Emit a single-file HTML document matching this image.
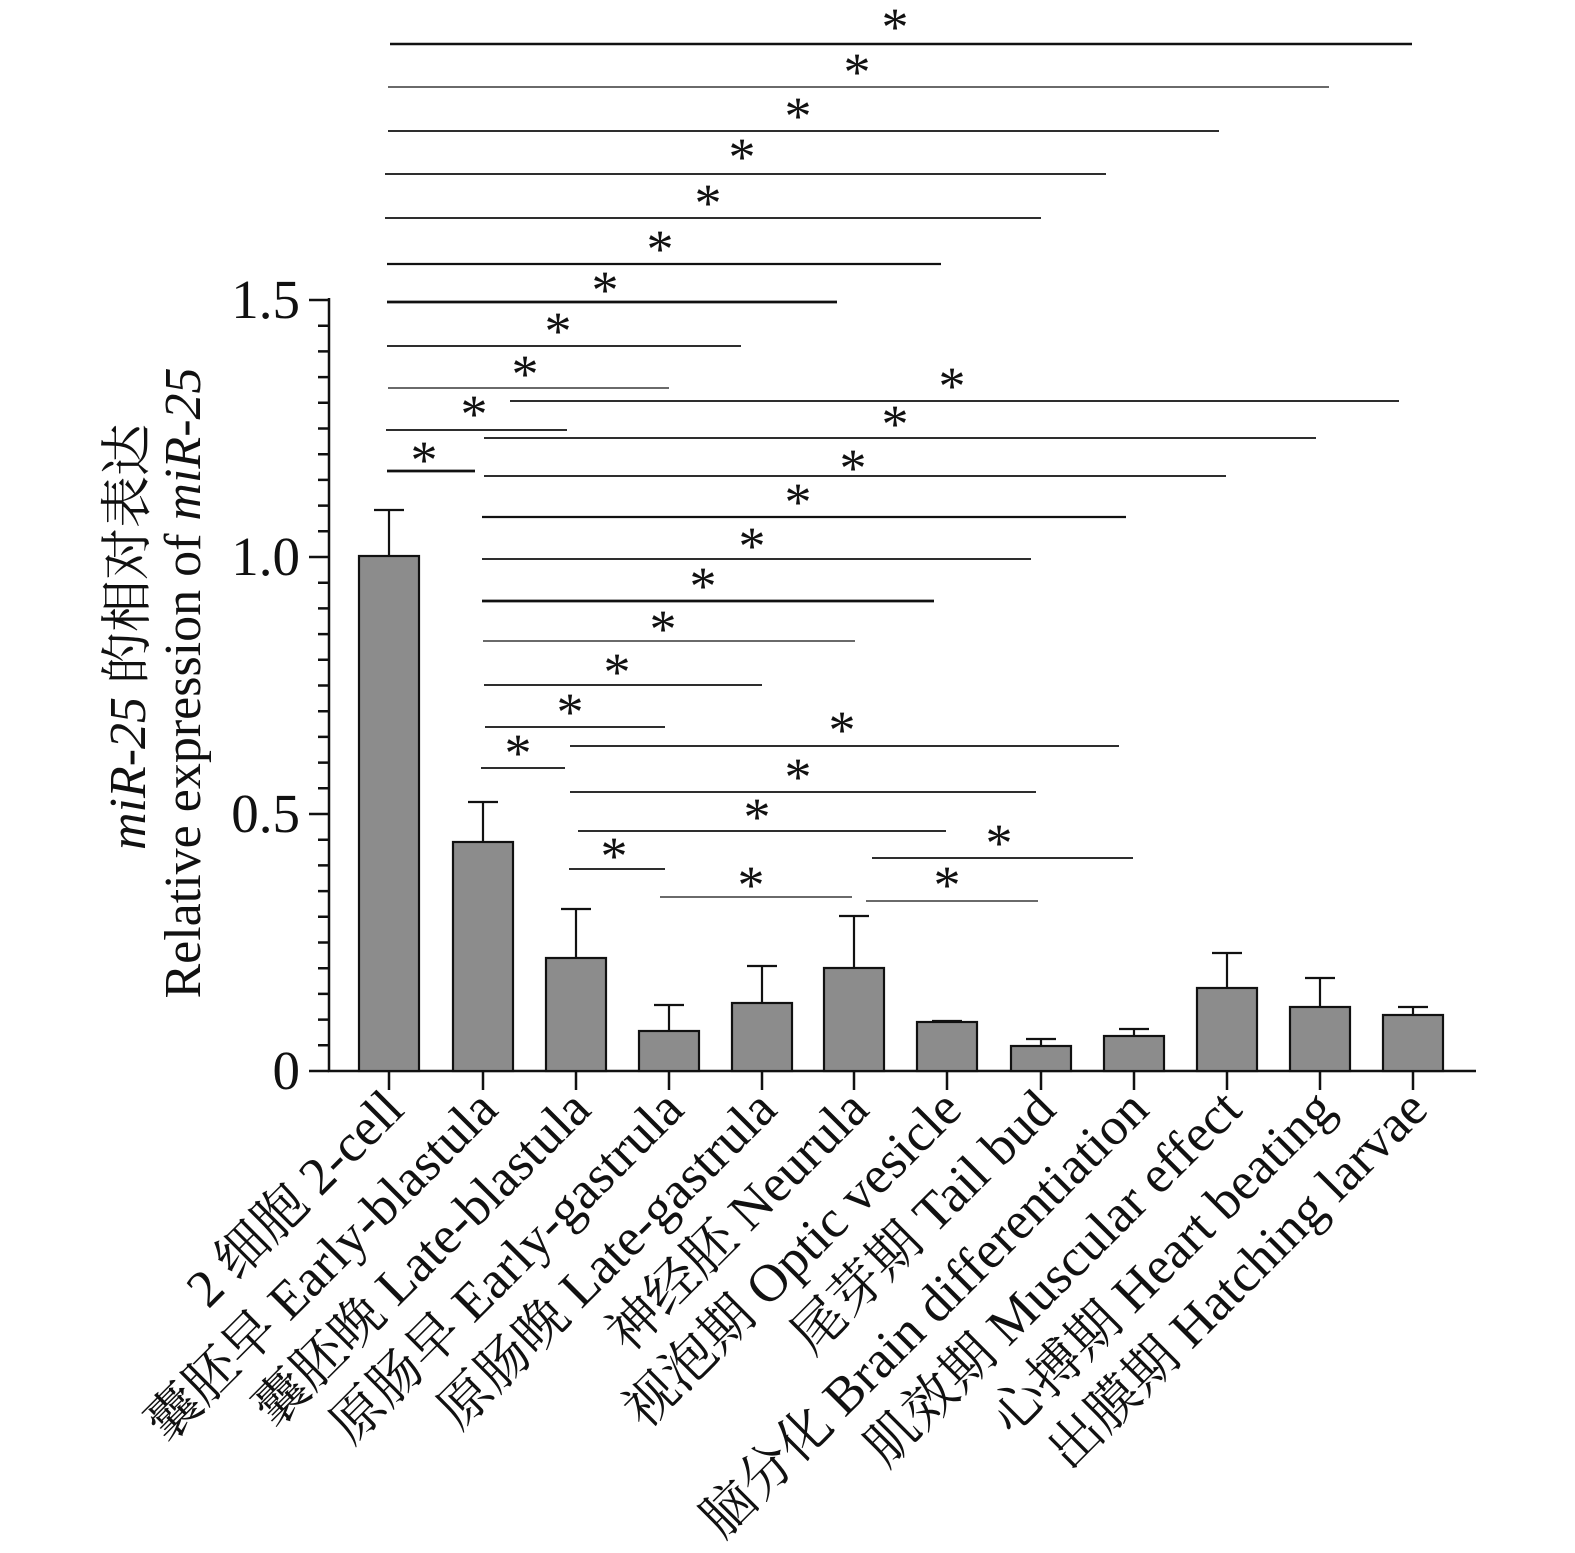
<!DOCTYPE html>
<html><head><meta charset="utf-8"><style>html,body{margin:0;padding:0;background:#fff}svg{display:block}</style></head>
<body>
<svg width="1575" height="1553" viewBox="0 0 1575 1553" xmlns="http://www.w3.org/2000/svg" font-family="'Liberation Serif','Noto Serif CJK SC',serif" fill="#111">
<g stroke="#111" stroke-width="2.5" fill="none">
<path d="M329 298 V1071 H1476"/>
<path d="M309 300H329M309 557H329M309 814H329M309 1071H329"/>
<path d="M318 325.7H329M318 351.4H329M318 377.1H329M318 402.8H329M318 428.5H329M318 454.2H329M318 479.9H329M318 505.6H329M318 531.3H329
M318 582.7H329M318 608.4H329M318 634.1H329M318 659.8H329M318 685.5H329M318 711.2H329M318 736.9H329M318 762.6H329M318 788.3H329
M318 839.7H329M318 865.4H329M318 891.1H329M318 916.8H329M318 942.5H329M318 968.2H329M318 993.9H329M318 1019.6H329M318 1045.3H329"/>
<path d="M389 1071V1090M483 1071V1090M576 1071V1090M669 1071V1090M762 1071V1090M854 1071V1090M947 1071V1090M1041 1071V1090M1134 1071V1090M1227 1071V1090M1320 1071V1090M1413 1071V1090"/>
</g>
<g font-size="55" text-anchor="end">
<text x="300" y="318">1.5</text><text x="300" y="575">1.0</text><text x="300" y="832">0.5</text><text x="300" y="1089">0</text>
</g>
<g fill="#8c8c8c" stroke="#111" stroke-width="2.2">
<rect x="359" y="556" width="60" height="515"/>
<rect x="453" y="842" width="60" height="229"/>
<rect x="546" y="958" width="60" height="113"/>
<rect x="639" y="1031" width="60" height="40"/>
<rect x="732" y="1003" width="60" height="68"/>
<rect x="824" y="968" width="60" height="103"/>
<rect x="917" y="1022" width="60" height="49"/>
<rect x="1011" y="1046" width="60" height="25"/>
<rect x="1104" y="1036" width="60" height="35"/>
<rect x="1197" y="988" width="60" height="83"/>
<rect x="1290" y="1007" width="60" height="64"/>
<rect x="1383" y="1015" width="60" height="56"/>
</g>
<g stroke="#111" stroke-width="2.2" fill="none">
<path d="M389 556V510M374 510H404"/>
<path d="M483 842V802M468 802H498"/>
<path d="M576 958V909M561 909H591"/>
<path d="M669 1031V1005M654 1005H684"/>
<path d="M762 1003V966M747 966H777"/>
<path d="M854 968V916M839 916H869"/>
<path d="M947 1022V1021M932 1021H962"/>
<path d="M1041 1046V1039M1026 1039H1056"/>
<path d="M1134 1036V1029M1119 1029H1149"/>
<path d="M1227 988V953M1212 953H1242"/>
<path d="M1320 1007V978M1305 978H1335"/>
<path d="M1413 1015V1007M1398 1007H1428"/>
</g>
<g stroke="#111" stroke-width="1.8" fill="none">
<path d="M390 44H1412" stroke-width="2.6"/>
<path d="M388 87H1329" stroke-width="1.3"/>
<path d="M388 131H1219"/>
<path d="M385 174H1106"/>
<path d="M385 218H1041"/>
<path d="M387 264H941" stroke-width="2.2"/>
<path d="M387 302H837" stroke-width="2.8"/>
<path d="M387 346H741"/>
<path d="M388 388H669" stroke-width="1.2"/>
<path d="M386 430H567"/>
<path d="M387 471H475" stroke-width="2.8"/>
<path d="M510 401H1399"/>
<path d="M484 438H1316"/>
<path d="M484 476H1226"/>
<path d="M482 517H1126" stroke-width="2.2"/>
<path d="M482 559H1031"/>
<path d="M482 601H934" stroke-width="2.8"/>
<path d="M483 641H855" stroke-width="1.3"/>
<path d="M484 685H762"/>
<path d="M485 727H665"/>
<path d="M481 768H565"/>
<path d="M570 746H1119"/>
<path d="M570 792H1036"/>
<path d="M578 831H946"/>
<path d="M569 869H665"/>
<path d="M660 897H852" stroke-width="1.3"/>
<path d="M872 858H1133"/>
<path d="M866 901H1038" stroke-width="1.3"/>
</g>
<g font-size="54" text-anchor="middle">
<text x="895" y="45">*</text><text x="857" y="90">*</text><text x="798" y="134">*</text><text x="742" y="175">*</text>
<text x="708" y="221">*</text><text x="660" y="267">*</text><text x="605" y="308">*</text><text x="558" y="349">*</text>
<text x="525" y="392">*</text><text x="474" y="432">*</text><text x="424" y="478">*</text>
<text x="952" y="404">*</text><text x="895" y="442">*</text><text x="853" y="486">*</text><text x="798" y="520">*</text>
<text x="752" y="564">*</text><text x="703" y="604">*</text><text x="663" y="647">*</text><text x="617" y="690">*</text>
<text x="570" y="730">*</text><text x="518" y="771">*</text><text x="842" y="748">*</text><text x="798" y="795">*</text>
<text x="757" y="835">*</text><text x="614" y="874">*</text><text x="751" y="903">*</text><text x="999" y="861">*</text><text x="947" y="903">*</text>
</g>
<g font-size="52" text-anchor="middle">
<text transform="translate(145 637) rotate(-90)"><tspan font-style="italic">miR-25</tspan> 的相对表达</text>
<text transform="translate(200 683) rotate(-90)">Relative expression of <tspan font-style="italic">miR-25</tspan></text>
</g>
<g font-size="53" text-anchor="end">
<text transform="translate(406 1112) rotate(-45)">2 细胞 2-cell</text>
<text transform="translate(500 1112) rotate(-45)">囊胚早 Early-blastula</text>
<text transform="translate(593 1112) rotate(-45)">囊胚晚 Late-blastula</text>
<text transform="translate(686 1112) rotate(-45)">原肠早 Early-gastrula</text>
<text transform="translate(779 1112) rotate(-45)">原肠晚 Late-gastrula</text>
<text transform="translate(871 1112) rotate(-45)">神经胚 Neurula</text>
<text transform="translate(964 1112) rotate(-45)">视泡期 Optic vesicle</text>
<text transform="translate(1058 1112) rotate(-45)">尾芽期 Tail bud</text>
<text transform="translate(1151 1112) rotate(-45)">脑分化 Brain differentiation</text>
<text transform="translate(1244 1112) rotate(-45)">肌效期 Muscular effect</text>
<text transform="translate(1337 1112) rotate(-45)">心搏期 Heart beating</text>
<text transform="translate(1430 1112) rotate(-45)">出膜期 Hatching larvae</text>
</g>
</svg>
</body></html>
